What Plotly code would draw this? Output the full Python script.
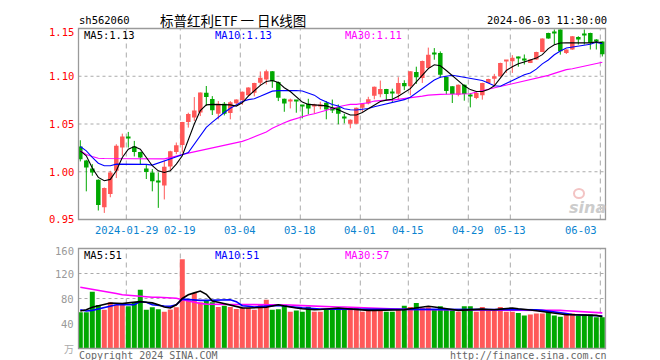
import plotly.graph_objects as go

# ---------------- data ----------------
opens = [1.0264, 1.0118, 1.0035, 0.9917, 0.9628, 0.9767, 1.0010, 1.0253, 1.0368, 1.0264,
         1.0208, 1.0035, 0.9993, 0.9900, 0.9855, 1.0056, 1.0207, 1.0280, 1.0520, 1.0568,
         1.0620, 1.0826, 1.0763, 1.0608, 1.0711, 1.0615, 1.0717, 1.0752, 1.0800, 1.0826,
         1.0931, 1.0965, 1.1052, 1.0941, 1.0764, 1.0738, 1.0747, 1.0690, 1.0712, 1.0688,
         1.0688, 1.0722, 1.0670, 1.0677, 1.0568, 1.0503, 1.0503, 1.0670, 1.0715, 1.0795,
         1.0812, 1.0867, 1.0840, 1.0818, 1.0929, 1.0895, 1.1045, 1.0982, 1.1086, 1.1236,
         1.1243, 1.0992, 1.0895, 1.0807, 1.0912, 1.0800, 1.0772, 1.0800, 1.0930, 1.0975,
         1.1000, 1.1160, 1.1158, 1.1192, 1.1168, 1.1140, 1.1175, 1.1255, 1.1454, 1.1452,
         1.1490, 1.1244, 1.1279, 1.1412, 1.1432, 1.1454, 1.1372, 1.1363]
highs = [1.0330, 1.0125, 1.0080, 0.9920, 0.9835, 1.0010, 1.0288, 1.0399, 1.0417, 1.0323,
         1.0210, 1.0080, 1.0028, 0.9993, 1.0115, 1.0220, 1.0306, 1.0522, 1.0618, 1.0782,
         1.0830, 1.0898, 1.0792, 1.0740, 1.0730, 1.0740, 1.0758, 1.0840, 1.0885, 1.0932,
         1.1050, 1.1069, 1.1055, 1.0945, 1.0766, 1.0766, 1.0750, 1.0692, 1.0764, 1.0712,
         1.0733, 1.0740, 1.0756, 1.0705, 1.0608, 1.0549, 1.0672, 1.0714, 1.0785, 1.0892,
         1.0955, 1.0868, 1.0870, 1.0990, 1.0958, 1.1053, 1.1100, 1.1164, 1.1300, 1.1295,
         1.1260, 1.0993, 1.0896, 1.0914, 1.0914, 1.0825, 1.0842, 1.0932, 1.0974, 1.1025,
         1.1142, 1.1167, 1.1221, 1.1207, 1.1228, 1.1177, 1.1257, 1.1397, 1.1456, 1.1490,
         1.1492, 1.1281, 1.1421, 1.1419, 1.1490, 1.1456, 1.1389, 1.1365]
lows = [1.0108, 0.9795, 0.9958, 0.9594, 0.9569, 0.9733, 0.9934, 1.0167, 1.0253, 1.0160,
        1.0080, 0.9924, 0.9795, 0.9622, 0.9710, 1.0010, 1.0184, 1.0201, 1.0462, 1.0531,
        1.0583, 1.0690, 1.0594, 1.0549, 1.0590, 1.0549, 1.0708, 1.0700, 1.0790, 1.0790,
        1.0900, 1.0914, 1.0879, 1.0740, 1.0628, 1.0663, 1.0618, 1.0559, 1.0600, 1.0608,
        1.0653, 1.0549, 1.0615, 1.0497, 1.0507, 1.0455, 1.0500, 1.0628, 1.0705, 1.0759,
        1.0780, 1.0747, 1.0720, 1.0755, 1.0855, 1.0800, 1.0920, 1.0930, 1.1075, 1.1173,
        1.0985, 1.0810, 1.0720, 1.0790, 1.0744, 1.0674, 1.0760, 1.0755, 1.0925, 1.0900,
        1.0998, 1.1035, 1.1035, 1.1100, 1.1123, 1.1138, 1.1173, 1.1253, 1.1393, 1.1332,
        1.1226, 1.1233, 1.1277, 1.1332, 1.1332, 1.1280, 1.1280, 1.1207]
closes = [1.0132, 1.0045, 0.9993, 0.9653, 0.9830, 0.9993, 1.0271, 1.0368, 1.0358, 1.0208,
          1.0149, 0.9997, 0.9900, 0.9892, 1.0052, 1.0215, 1.0277, 1.0520, 1.0605, 1.0641,
          1.0829, 1.0784, 1.0643, 1.0711, 1.0608, 1.0729, 1.0756, 1.0838, 1.0882, 1.0930,
          1.0983, 1.1052, 1.0948, 1.0774, 1.0715, 1.0742, 1.0740, 1.0684, 1.0663, 1.0705,
          1.0705, 1.0653, 1.0650, 1.0608, 1.0563, 1.0545, 1.0670, 1.0712, 1.0760, 1.0890,
          1.0867, 1.0815, 1.0822, 1.0929, 1.0894, 1.1052, 1.0990, 1.1160, 1.1226, 1.1230,
          1.1017, 1.0845, 1.0814, 1.0912, 1.0814, 1.0795, 1.0825, 1.0930, 1.0972, 1.1000,
          1.1140, 1.1165, 1.1193, 1.1188, 1.1165, 1.1175, 1.1255, 1.1395, 1.1395, 1.1448,
          1.1261, 1.1279, 1.1419, 1.1384, 1.1428, 1.1350, 1.1367, 1.1231]
ma5 = [1.0219, 1.0167, 1.0040, 0.9941, 0.9906, 0.9920, 1.0010, 1.0150, 1.0236, 1.0264,
       1.0236, 1.0150, 1.0063, 1.0010, 0.9993, 1.0010, 1.0080, 1.0167, 1.0330, 1.0500,
       1.0640, 1.0700, 1.0705, 1.0705, 1.0700, 1.0700, 1.0688, 1.0722, 1.0792, 1.0850,
       1.0905, 1.0945, 1.0955, 1.0935, 1.0880, 1.0840, 1.0780, 1.0730, 1.0705, 1.0700,
       1.0700, 1.0690, 1.0670, 1.0650, 1.0620, 1.0594, 1.0594, 1.0620, 1.0660, 1.0700,
       1.0735, 1.0750, 1.0760, 1.0790, 1.0830, 1.0870, 1.0940, 1.1010, 1.1080, 1.1120,
       1.1110, 1.1060, 1.1010, 1.0960, 1.0900, 1.0860, 1.0840, 1.0840, 1.0860, 1.0900,
       1.0980, 1.1060, 1.1100, 1.1130, 1.1150, 1.1170, 1.1190, 1.1226, 1.1290, 1.1330,
       1.1348, 1.1350, 1.1350, 1.1350, 1.1350, 1.1350, 1.1360, 1.1350]
ma10 = [1.0264, 1.0219, 1.0150, 1.0090, 1.0063, 1.0063, 1.0080, 1.0080, 1.0080, 1.0080,
        1.0080, 1.0077, 1.0070, 1.0090, 1.0115, 1.0135, 1.0156, 1.0177, 1.0201, 1.0288,
        1.0385, 1.0465, 1.0520, 1.0575, 1.0620, 1.0665, 1.0700, 1.0735, 1.0755, 1.0765,
        1.0790, 1.0815, 1.0844, 1.0850, 1.0851, 1.0851, 1.0851, 1.0845, 1.0825, 1.0802,
        1.0760, 1.0730, 1.0705, 1.0688, 1.0660, 1.0650, 1.0646, 1.0655, 1.0663, 1.0680,
        1.0695, 1.0708, 1.0718, 1.0735, 1.0755, 1.0781, 1.0825, 1.0870, 1.0920, 1.0960,
        1.0990, 1.1000, 1.1010, 1.1000, 1.0990, 1.0980, 1.0970, 1.0955, 1.0930, 1.0900,
        1.0895, 1.0925, 1.0955, 1.0990, 1.1015, 1.1035, 1.1075, 1.1130, 1.1170, 1.1225,
        1.1265, 1.1295, 1.1305, 1.1313, 1.1325, 1.1335, 1.1355, 1.1340]
ma30 = [1.0219, 1.0180, 1.0160, 1.0142, 1.0139, 1.0139, 1.0139, 1.0139, 1.0139, 1.0139,
        1.0139, 1.0139, 1.0135, 1.0132, 1.0135, 1.0148, 1.0160, 1.0180, 1.0195, 1.0208,
        1.0222, 1.0235, 1.0248, 1.0260, 1.0273, 1.0285, 1.0300, 1.0318, 1.0340, 1.0365,
        1.0392, 1.0417, 1.0455, 1.0486, 1.0514, 1.0538, 1.0559, 1.0576, 1.0594, 1.0608,
        1.0628, 1.0642, 1.0663, 1.0680, 1.0694, 1.0705, 1.0705, 1.0712, 1.0722, 1.0740,
        1.0747, 1.0750, 1.0750, 1.0757, 1.0764, 1.0774, 1.0785, 1.0792, 1.0802, 1.0809,
        1.0810, 1.0812, 1.0814, 1.0814, 1.0814, 1.0816, 1.0835, 1.0849, 1.0866, 1.0884,
        1.0898, 1.0912, 1.0926, 1.0940, 1.0954, 1.0968, 1.0981, 1.0995, 1.1009, 1.1030,
        1.1051, 1.1069, 1.1079, 1.1093, 1.1104, 1.1118, 1.1132, 1.1146]
volumes = [58, 58, 91, 69.6, 62, 74, 70, 70, 67.5, 74,
           94, 62, 66, 63, 59, 62.6, 66, 143, 77, 89,
           74, 77, 74, 66.4, 68.5, 66.4, 63.2, 64.8, 64.8, 62,
           70, 78, 62, 63, 70, 59, 61, 59, 67, 59,
           59, 62, 63, 62, 64.8, 64.8, 64.8, 59, 63.7, 63.7,
           63.7, 59, 59, 63.7, 68.5, 66.4, 72.9, 64.8, 66, 62,
           67.5, 62, 62, 59, 67.5, 67.5, 59, 66.4, 63, 61,
           66.4, 59, 59, 57, 53, 54.5, 56, 56, 59, 53,
           51, 56, 56, 53, 54.5, 54.5, 50, 50]
vma5 = [60, 62, 66, 68.5, 70.5, 72.9, 72.5, 72, 73, 74,
        75, 74, 73, 70, 66.4, 64.8, 70, 80, 86, 89,
        92, 86.7, 76, 74, 72, 70, 67, 65, 64.8, 64.8,
        64.8, 66, 68, 70, 68, 66, 64.8, 63.5, 62.5, 62,
        62.5, 63.5, 64.5, 64.8, 64, 63, 62.5, 62, 61, 61,
        61, 61, 61, 61, 62, 63.5, 65, 66.4, 67.5, 66.5,
        65.5, 63.7, 62.5, 61, 61.5, 62.5, 63, 63, 62.5, 62,
        63, 64, 64.8, 63.5, 63, 61.5, 60.5, 59, 57.5, 56,
        54.5, 54, 54, 54, 54, 54, 53, 51]
vma10 = [62, 60, 61, 63, 64.8, 67, 70, 70, 70, 70,
         75, 74, 70, 68.5, 68, 67.5, 70, 79, 78, 77.5,
         77, 77, 77.5, 78, 78, 78, 75, 68.5, 67.5, 66.4,
         67, 68, 68.5, 69, 68, 66.5, 66, 65, 64, 63,
         63, 63, 63, 63, 62.5, 62.5, 62, 62, 62, 62,
         62, 62, 62, 62, 62, 62.5, 62.5, 63, 63, 63,
         63, 63, 63, 63, 63, 63, 63, 63, 63, 63,
         63, 63, 63, 63, 63, 62.5, 62, 61, 60, 59,
         57.5, 56, 54.5, 54, 53.5, 53.5, 52.5, 52]
vma30 = [98, 96.5, 95, 93.5, 92, 90, 88, 86, 85, 84.5,
         84, 83, 82, 82, 81.5, 81, 80.5, 78, 76, 73,
         72, 71, 70.6, 70.5, 70.5, 70.5, 70.5, 70.5, 70.5, 70.5,
         70.5, 70.5, 70.5, 70, 70, 69.5, 69, 68.5, 68.5, 68,
         68, 67.5, 67, 66.5, 66.4, 66, 65.5, 65, 64.8, 64.5,
         63.5, 63, 63, 63, 62.8, 62.5, 62.3, 62, 62, 62,
         62, 62, 62, 62, 62, 62, 62, 62, 62, 62,
         62, 62, 62, 62, 62, 62, 62, 61.5, 61.5, 61,
         61, 60.5, 60, 59, 58.5, 58, 57.5, 57]

tick_idx = [8, 17, 27, 37, 47, 55, 65, 72, 87]
tick_labels = ["2024-01-29", "02-19", "03-04", "03-18", "04-01", "04-15", "04-29", "05-13", "06-03"]
price_ticks = [1.15, 1.10, 1.05, 1.00, 0.95]
price_labels = ["1.15", "1.10", "1.05", "1.00", "0.95"]
vol_ticks = [160, 120, 80, 40]
vol_labels = ["160", "120", "80", "40"]

title_text = "标普红利ETF 一 日K线图"
code_text = "sh562060"
time_text = "2024-06-03 11:30:00"
ma_labels_price = ["MA5:1.13", "MA10:1.13", "MA30:1.11"]
ma_labels_vol = ["MA5:51", "MA10:51", "MA30:57"]

# ---------------- styling / layout ----------------
W, H = 660, 360
RED, GREEN = "#ff5858", "#00a800"
GRID = "#aaaaaa"
BORDER = "#9a9a9a"
MONO = "DejaVu Sans Mono"
TICKBLUE = "#0a84d0"

def px(x):
    return x / W

def py(y):
    return 1 - y / H

x_left, x_right = 70.5, 597.5
main_top, main_bot = 20.5, 211.5
vol_top, vol_bot = 240.5, 340.5

n = len(closes)
idx = list(range(n))
up = [c >= o for o, c in zip(opens, closes)]
colors = [RED if u else GREEN for u in up]

fig = go.Figure()

# wicks
for col, flag in ((RED, True), (GREEN, False)):
    wx, wy = [], []
    for i in idx:
        if up[i] == flag:
            wx += [i, i, None]
            wy += [lows[i], highs[i], None]
    fig.add_trace(go.Scatter(x=wx, y=wy, mode="lines", line=dict(color=col, width=1),
                             hoverinfo="skip", showlegend=False, xaxis="x", yaxis="y"))

# bodies
body_base = [min(o, c) for o, c in zip(opens, closes)]
body_h = [max(abs(c - o), 0.0011) for o, c in zip(opens, closes)]
fig.add_trace(go.Bar(x=idx, y=body_h, base=body_base, width=0.75,
                     marker=dict(color=colors, line=dict(width=0)),
                     hoverinfo="skip", showlegend=False, xaxis="x", yaxis="y"))

# price MAs
for arr, col in ((ma30, "#ff00ff"), (ma10, "#0000ff"), (ma5, "#000000")):
    fig.add_trace(go.Scatter(x=idx, y=arr, mode="lines", line=dict(color=col, width=1.1),
                             hoverinfo="skip", showlegend=False, xaxis="x", yaxis="y"))

# volume bars
fig.add_trace(go.Bar(x=idx, y=volumes, width=0.83,
                     marker=dict(color=colors, line=dict(width=0)),
                     hoverinfo="skip", showlegend=False, xaxis="x2", yaxis="y2"))
for arr, col in ((vma30, "#ff00ff"), (vma10, "#0000ff"), (vma5, "#000000")):
    fig.add_trace(go.Scatter(x=idx, y=arr, mode="lines", line=dict(color=col, width=1.6),
                             hoverinfo="skip", showlegend=False, xaxis="x2", yaxis="y2"))

xr = [-0.3, 87.53]
dom_x = [px(x_left), px(x_right)]
fig.update_layout(
    width=W, height=H, margin=dict(l=0, r=0, t=0, b=0),
    paper_bgcolor="white", plot_bgcolor="white",
    barmode="overlay", showlegend=False,
    xaxis=dict(domain=dom_x, range=xr, visible=False, fixedrange=True),
    yaxis=dict(domain=[py(main_bot), py(main_top)], range=[0.95, 1.15], visible=False),
    xaxis2=dict(domain=dom_x, range=xr, visible=False, anchor="y2"),
    yaxis2=dict(domain=[py(vol_bot), py(vol_top)], range=[0, 160], visible=False, anchor="x2"),
)

shapes = []
# horizontal dotted grid
for v in price_ticks[1:-1]:
    shapes.append(dict(type="line", xref="x domain", yref="y", x0=0, x1=1, y0=v, y1=v,
                       line=dict(color=GRID, width=1, dash="dot"), layer="below"))
for v in vol_ticks[1:]:
    shapes.append(dict(type="line", xref="x2 domain", yref="y2", x0=0, x1=1, y0=v, y1=v,
                       line=dict(color=GRID, width=1, dash="dot"), layer="below"))
# vertical dashed grid
for t in tick_idx:
    gx = t - 1 / 3
    shapes.append(dict(type="line", xref="x", yref="y domain", x0=gx, x1=gx, y0=0, y1=1,
                       line=dict(color=GRID, width=1, dash="5px,4px"), layer="below"))
    shapes.append(dict(type="line", xref="x2", yref="y2 domain", x0=gx, x1=gx, y0=0, y1=1,
                       line=dict(color=GRID, width=1, dash="5px,4px"), layer="below"))
# borders
for yt, yb in ((main_top, main_bot), (vol_top, vol_bot)):
    shapes.append(dict(type="rect", xref="paper", yref="paper",
                       x0=px(x_left), x1=px(x_right), y0=py(yb), y1=py(yt),
                       line=dict(color=BORDER, width=1.3), fillcolor="rgba(0,0,0,0)", layer="above"))
# watermark logo (pale eye mark above the "sina" text)
shapes.append(dict(type="circle", xref="paper", yref="paper",
                   x0=px(566), x1=px(576), y0=py(190), y1=py(181),
                   line=dict(color="#f3c4c4", width=2), fillcolor="rgba(0,0,0,0)", layer="below"))
fig.update_layout(shapes=shapes)

ann = []
def text(x, y, s, color="#000000", size=10, xanchor="left", family=MONO, **kw):
    ann.append(dict(x=px(x), y=py(y), xref="paper", yref="paper", text=s, showarrow=False,
                    xanchor=xanchor, yanchor="middle", font=dict(family=family, size=size, color=color), **kw))

# header
text(69, 12, code_text, size=10.5)
text(225, 12, title_text, size=13.5, xanchor="center", family="Noto Sans CJK SC")
text(601, 12, time_text, size=10.5, xanchor="right")

# price axis labels
for v, s in zip(price_ticks, price_labels):
    yy = main_top + (1.15 - v) / 0.2 * (main_bot - main_top)
    if v == 1.15:
        yy += 4
    text(67.5, yy, s, color="#ff0000", size=10.5, xanchor="right")
# volume axis labels
for v, s in zip(vol_ticks, vol_labels):
    yy = vol_bot - v / 160 * (vol_bot - vol_top)
    if v == 160:
        yy += 2
    text(67.5, yy, s, color="#999999", size=10.5, xanchor="right")
text(67.5, 340, "万", color="#aaaaaa", size=10, xanchor="right", family="Noto Sans CJK SC")

# date labels
for t, s in zip(tick_idx, tick_labels):
    gx = 72.3 + 6 * t - 2
    if t == tick_idx[-1]:
        text(591, 222, s, color=TICKBLUE, size=10.5, xanchor="right")
    else:
        text(gx, 222, s, color=TICKBLUE, size=10.5, xanchor="center")

# MA labels
for (s, c, x) in zip(ma_labels_price, ["#000000", "#0000ff", "#ff00ff"], [74, 205, 335]):
    text(x, 27, s, color=c, size=10.5)
for (s, c, x) in zip(ma_labels_vol, ["#000000", "#0000ff", "#ff00ff"], [74, 205, 335]):
    text(x, 247, s, color=c, size=10.5)

# footer
text(69, 347, "Copyright 2024 SINA.COM", color="#666666", size=10)
text(601, 347, "http://finance.sina.com.cn", color="#666666", size=10, xanchor="right")

# watermark text
text(579, 199, "<b><i>sina</i></b>", color="#cccccc", size=16, xanchor="center", family="DejaVu Sans")

fig.update_layout(annotations=ann)
fig.write_html("out.html")
